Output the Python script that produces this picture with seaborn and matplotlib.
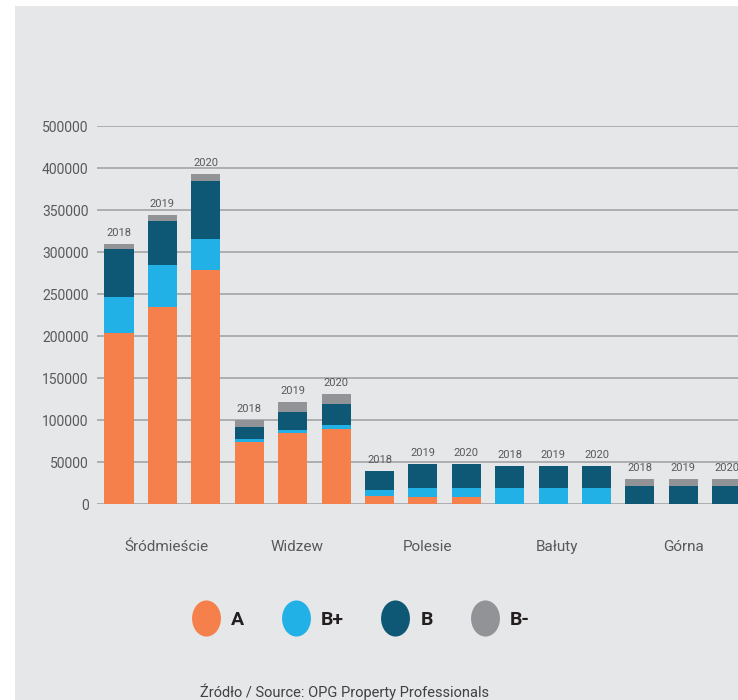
import matplotlib
matplotlib.use("Agg")
import matplotlib.pyplot as plt
import seaborn as sns
import pandas as pd
from matplotlib.patches import Rectangle
from matplotlib.lines import Line2D
from matplotlib.path import Path
from matplotlib.transforms import Affine2D

# Data (office stock by class, per district and year)
districts = ["Śródmieście", "Widzew", "Polesie", "Bałuty", "Górna"]
years = ["2018", "2019", "2020"]
class_a = [204000, 235000, 278000, 74000, 84500, 89500, 10000, 8500, 8500,
           0, 0, 0, 0, 0, 0]
class_bplus = [43000, 49000, 37000, 3500, 4000, 5000, 7000, 11000, 11000,
               19500, 18500, 18500, 0, 0, 0]
class_b = [57000, 53500, 70000, 14500, 21500, 24000, 22500, 28500, 28500,
           26000, 27000, 27000, 22000, 22000, 22000]
class_bminus = [6000, 7000, 8000, 8000, 12000, 13000, 0, 0, 0,
                0, 0, 0, 8000, 8000, 8000]
y_ticks = [0, 50000, 100000, 150000, 200000, 250000, 300000, 350000, 400000, 450000]
y_tick_labels = ["0", "50000", "100000", "150000", "200000", "250000",
                 "300000", "350000", "400000", "500000"]
class_names = ["A", "B+", "B", "B-"]
class_colors = ["#f5804b", "#22b1e6", "#0e5775", "#929396"]

BG = "#e6e7e9"
TEXT = "#58595b"

df = pd.DataFrame({
    "bar": [f"{d} {y}" for d in districts for y in years],
    "year": [y for d in districts for y in years],
    "A": class_a, "B+": class_bplus, "B": class_b, "B-": class_bminus,
})
# cumulative heights for layered (stacked) bars
df["c_A"] = df["A"]
df["c_B+"] = df["c_A"] + df["B+"]
df["c_B"] = df["c_B+"] + df["B"]
df["c_B-"] = df["c_B"] + df["B-"]

sns.set_theme(style="white")
plt.rcParams["font.family"] = ["Roboto", "DejaVu Sans"]

fig = plt.figure(figsize=(7.38, 7.0), dpi=100)
fig.patch.set_facecolor("white")
fig.patches.append(Rectangle((15 / 738, 0), 1, 694 / 700, transform=fig.transFigure,
                             facecolor=BG, edgecolor="none", zorder=-10))

ax = fig.add_axes([97 / 738, 196 / 700, 641 / 738, 378 / 700])
ax.set_facecolor("none")

order = df["bar"].tolist()
for name, color in reversed(list(zip(class_names, class_colors))):
    sns.barplot(data=df, x="bar", y="c_" + name, order=order, color=color,
                saturation=1, width=0.67, errorbar=None, ax=ax, zorder=2,
                linewidth=0, edgecolor="none")

# year labels above each bar
for i, (yr, tot) in enumerate(zip(df["year"], df["c_B-"])):
    ax.annotate(yr, (i, tot), xytext=(0, 4), textcoords="offset points",
                ha="center", va="bottom", fontsize=8, color=TEXT)

ax.set_xlim(-0.507, 14.26)
ax.set_ylim(0, 450000)
ax.set_yticks(y_ticks, y_tick_labels)
ax.set_xticks([1.1, 4.1, 7.1, 10.1, 13.0], districts)
ax.tick_params(axis="y", length=0, pad=6, labelsize=10, labelcolor=TEXT)
ax.tick_params(axis="x", length=0, pad=26, labelsize=11, labelcolor=TEXT)
ax.set_xlabel("")
ax.set_ylabel("")
ax.grid(axis="y", color="#a7a9ac", linewidth=1.3)
ax.set_axisbelow(True)
sns.despine(ax=ax, left=True, bottom=True)

# legend with oval markers
oval = Path.unit_circle().transformed(Affine2D().scale(0.8, 1.0))
handles = [Line2D([], [], linestyle="none", marker=oval, markersize=26,
                  markerfacecolor=c, markeredgecolor="none") for c in class_colors]
fig.legend(handles, class_names, loc="center", bbox_to_anchor=(360 / 738, 80 / 700),
           ncol=4, frameon=False, handlelength=1.6, handletextpad=0.5,
           columnspacing=1.85, prop={"weight": "bold", "size": 14},
           labelcolor="#231f20")

fig.text(345 / 738, 8 / 700, "Źródło / Source: OPG Property Professionals",
         ha="center", va="center", fontsize=10.5, color="#414042")

fig.savefig("out.png", dpi=100)
